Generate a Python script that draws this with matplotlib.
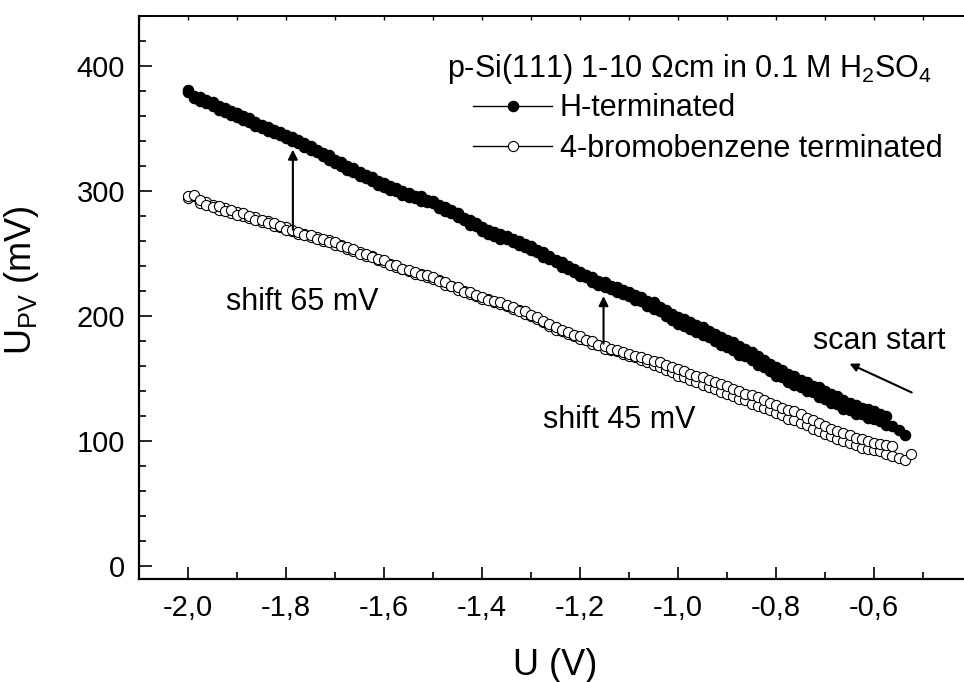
import numpy as np
import matplotlib
matplotlib.use("Agg")
import matplotlib.pyplot as plt
from matplotlib.ticker import MultipleLocator

plt.rcParams['font.family'] = ['Liberation Sans', 'DejaVu Sans']
plt.rcParams['mathtext.default'] = 'regular'

# potential sweep: first point and step (V)
V_START = -2.0
V_STEP = 0.0125

# H-terminated, two sweep branches (mV)
h_term_a = [379, 374, 372, 373, 368, 365, 366, 361, 362, 357, 355, 355,
            350, 351, 346, 345, 345, 340, 338, 338, 333, 333, 328, 325,
            325, 320, 317, 318, 312, 313, 308, 305, 306, 301, 300, 300,
            295, 296, 292, 291, 290, 286, 287, 282, 279, 278, 273, 274,
            268, 269, 264, 262, 262, 259, 260, 255, 253, 251, 247, 246,
            243, 239, 238, 235, 232, 231, 227, 225, 223, 222, 219, 218,
            216, 213, 212, 208, 206, 204, 200, 197, 194, 192, 190, 187,
            185, 183, 180, 177, 175, 173, 169, 168, 165, 161, 159, 156,
            152, 151, 147, 145, 143, 140, 139, 135, 134, 131, 130, 126,
            125, 122, 122, 119, 118, 116, 113, 112, 109, 105]
h_term_b = [381, 376, 375, 370, 371, 368, 363, 364, 359, 360, 358, 352,
            353, 348, 349, 347, 342, 343, 341, 335, 336, 331, 330, 329,
            322, 323, 320, 315, 315, 310, 311, 308, 303, 304, 302, 297,
            298, 294, 296, 293, 292, 289, 284, 285, 282, 277, 277, 272,
            271, 266, 267, 266, 264, 262, 257, 258, 256, 253, 251, 248,
            245, 243, 240, 238, 235, 233, 231, 228, 227, 224, 223, 221,
            219, 217, 215, 212, 211, 207, 205, 202, 199, 198, 195, 193,
            191, 188, 186, 183, 181, 179, 176, 174, 171, 168, 165, 162,
            159, 157, 154, 152, 149, 147, 144, 143, 140, 138, 136, 133,
            131, 129, 127, 126, 124, 122, 120]

# 4-bromobenzene terminated, two sweep branches (mV)
br_term_a = [294, 296, 290, 291, 289, 285, 286, 282, 283, 280, 278, 279,
             275, 276, 272, 271, 271, 268, 266, 266, 263, 263, 260, 261,
             257, 257, 254, 252, 251, 248, 248, 245, 243, 242, 239, 238,
             236, 234, 234, 231, 230, 229, 225, 224, 221, 220, 218, 216,
             214, 214, 211, 210, 208, 206, 205, 202, 200, 198, 195, 192,
             189, 188, 186, 184, 182, 181, 178, 177, 174, 173, 172, 170,
             168, 167, 165, 163, 161, 159, 157, 155, 152, 151, 149, 147,
             145, 143, 142, 139, 138, 136, 134, 133, 130, 128, 127, 125,
             123, 121, 118, 117, 115, 113, 110, 108, 106, 104, 102, 100,
             99, 97, 95, 94, 93, 92, 90, 88, 87, 85, 90]
br_term_b = [296, 297, 293, 289, 287, 288, 284, 285, 281, 282, 280, 277,
             277, 274, 274, 272, 269, 269, 267, 265, 265, 262, 262, 259,
             259, 256, 255, 254, 250, 250, 247, 246, 245, 241, 241, 238,
             237, 235, 233, 233, 231, 228, 227, 224, 223, 219, 219, 217,
             215, 213, 212, 211, 209, 207, 204, 204, 201, 199, 196, 194,
             191, 189, 187, 185, 184, 181, 180, 177, 176, 174, 173, 171,
             170, 168, 167, 166, 164, 163, 161, 159, 158, 156, 154, 152,
             151, 149, 147, 146, 144, 142, 140, 138, 137, 135, 133, 131,
             129, 127, 125, 124, 122, 119, 117, 115, 112, 110, 108, 107,
             105, 103, 102, 100, 99, 98, 97, 96]

x_ticks = [-2.0, -1.8, -1.6, -1.4, -1.2, -1.0, -0.8, -0.6]
x_labels = ['-2,0', '-1,8', '-1,6', '-1,4', '-1,2', '-1,0', '-0,8', '-0,6']
y_ticks = [0, 100, 200, 300, 400]

# shift arrows: x, from (4-bromobenzene), to (H-terminated)
shift_x = [-1.786, -1.152]
shift_from = [269, 178]
shift_to = [333, 216]


def sweep(vals):
    return V_START + V_STEP * np.arange(len(vals))


FS = 22
MS = 7.3

fig = plt.figure(figsize=(9.64, 6.82), dpi=100)
ax = fig.add_axes([0.1442, 0.151, 0.8641, 0.826])

l1, = ax.plot(sweep(h_term_a), h_term_a, '-o', color='k', lw=1.0,
              ms=MS, mfc='k', mec='k', label='H-terminated')
ax.plot(sweep(h_term_b), h_term_b, '-o', color='k', lw=1.0,
        ms=MS, mfc='k', mec='k')
l2, = ax.plot(sweep(br_term_a), br_term_a, '-o', color='k', lw=1.0,
              ms=MS, mfc='white', mec='k', mew=0.8,
              label='4-bromobenzene terminated')
ax.plot(sweep(br_term_b), br_term_b, '-o', color='k', lw=1.0,
        ms=MS, mfc='white', mec='k', mew=0.8)

for xs, y0, y1 in zip(shift_x, shift_from, shift_to):
    ax.annotate('', xy=(xs, y1), xytext=(xs, y0),
                arrowprops=dict(arrowstyle='-|>', color='k', lw=1.5,
                                mutation_scale=14, shrinkA=0, shrinkB=0))
ax.annotate('', xy=(-0.650, 162), xytext=(-0.523, 139),
            arrowprops=dict(arrowstyle='-|>', color='k', lw=1.5,
                            mutation_scale=12, shrinkA=0, shrinkB=0))

ax.text(-1.922, 205, 'shift 65 mV', fontsize=FS, va='baseline')
ax.text(-1.275, 111, 'shift 45 mV', fontsize=FS, va='baseline')
ax.text(-0.725, 174, 'scan start', fontsize=FS, va='baseline')

ax.text(0.370, 0.891, 'p-Si(111) 1-10 Ωcm in 0.1 M H$_2$SO$_4$',
        transform=ax.transAxes, fontsize=FS, va='baseline')
ax.legend(handles=[l1, l2], loc='upper left', bbox_to_anchor=(0.401, 0.862),
          frameon=False, fontsize=FS, borderpad=0, borderaxespad=0,
          handlelength=2.6, handletextpad=0.23, labelspacing=0.33,
          numpoints=1)

ax.set_xlim(-2.1, -0.4)
ax.set_ylim(-10, 440)
ax.set_xticks(x_ticks)
ax.set_xticklabels(x_labels)
ax.set_yticks(y_ticks)
ax.xaxis.set_minor_locator(MultipleLocator(0.1))
ax.yaxis.set_minor_locator(MultipleLocator(20))
ax.tick_params(which='major', direction='in', length=9, width=1.2,
               labelsize=21)
ax.tick_params(which='minor', direction='in', length=5, width=1.2)
ax.tick_params(axis='x', pad=11)
ax.tick_params(axis='y', pad=10)

sec = ax.secondary_xaxis('top')
sec.set_xticks(x_ticks)
sec.xaxis.set_minor_locator(MultipleLocator(0.1))
sec.tick_params(which='both', direction='in', length=3, width=1,
                labeltop=False)

for s in ['left', 'bottom']:
    ax.spines[s].set_linewidth(1.6)
ax.spines['top'].set_linewidth(1.2)
sec.spines['top'].set_linewidth(1.2)
ax.spines['right'].set_visible(False)

ax.set_xlabel('U (V)', fontsize=26)
ax.set_ylabel('U$_{PV}$ (mV)', fontsize=26)
ax.xaxis.set_label_coords(0.5, -0.122)
ax.yaxis.set_label_coords(-0.118, 0.53)

fig.savefig('out.png', dpi=100)
